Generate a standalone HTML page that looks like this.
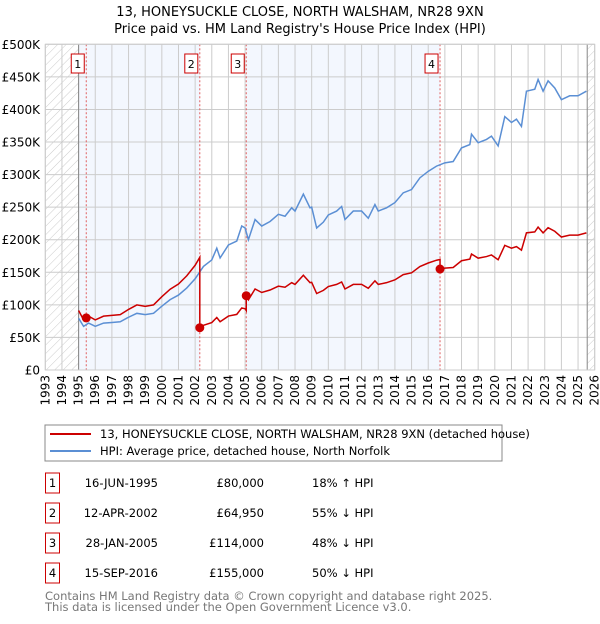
<!DOCTYPE html>
<html><head><meta charset="utf-8"><style>
body{margin:0;background:#fff;font-family:"DejaVu Sans","Liberation Sans",sans-serif;}
svg text{font-family:"DejaVu Sans","Liberation Sans",sans-serif;}
</style></head><body>
<svg id="c" width="600" height="620" xmlns="http://www.w3.org/2000/svg">
<defs><pattern id="hatch" width="6" height="6" patternUnits="userSpaceOnUse" patternTransform="rotate(45)"><line x1="0" y1="0" x2="0" y2="6" stroke="#ccc" stroke-width="1"/></pattern></defs>
<text x="300" y="16" text-anchor="middle" font-size="13">13, HONEYSUCKLE CLOSE, NORTH WALSHAM, NR28 9XN</text>
<text x="300" y="33" text-anchor="middle" font-size="13">Price paid vs. HM Land Registry's House Price Index (HPI)</text>
<g id="plot"></g>
<rect x="45" y="425" width="457" height="36" fill="#fff" stroke="#888"/>
<line x1="50" y1="434" x2="91" y2="434" stroke="#cc0000" stroke-width="2"/>
<text x="100" y="438" font-size="11.5">13, HONEYSUCKLE CLOSE, NORTH WALSHAM, NR28 9XN (detached house)</text>
<line x1="50" y1="451" x2="91" y2="451" stroke="#5b8fd4" stroke-width="2"/>
<text x="100" y="455" font-size="11.5">HPI: Average price, detached house, North Norfolk</text>
<g id="tbl" font-size="11.5"></g>
<text x="45" y="600" font-size="11.5" fill="#777">Contains HM Land Registry data © Crown copyright and database right 2025.</text>
<text x="45" y="611" font-size="11.5" fill="#777">This data is licensed under the Open Government Licence v3.0.</text>
</svg>
<script>
const hpiT=[1995.0,1995.3,1995.6,1996.0,1996.5,1997.0,1997.5,1998.0,1998.5,1999.0,1999.5,2000.0,2000.5,2001.0,2001.5,2002.0,2002.5,2003.0,2003.3,2003.5,2004.0,2004.5,2004.8,2005.0,2005.2,2005.6,2006.0,2006.5,2007.0,2007.4,2007.8,2008.0,2008.5,2008.9,2009.0,2009.3,2009.7,2010.0,2010.5,2010.8,2011.0,2011.5,2012.0,2012.4,2012.8,2013.0,2013.5,2014.0,2014.5,2015.0,2015.5,2016.0,2016.5,2017.0,2017.5,2018.0,2018.5,2018.6,2019.0,2019.5,2019.8,2020.2,2020.6,2021.0,2021.3,2021.6,2021.9,2022.4,2022.6,2022.9,2023.2,2023.6,2024.0,2024.5,2025.0,2025.5];
const hpiV=[79500,67000,72000,67000,72000,73000,74000,81000,87000,85000,87000,98000,108000,115000,126000,140000,159000,169000,187000,172000,192000,198000,221000,218000,200000,231000,221000,228000,239000,236000,249000,244000,270000,249000,250000,218000,227000,238000,244000,251000,231000,244000,244000,233000,254000,244000,249000,257000,272000,277000,295000,305000,313000,318000,320000,341000,346000,362000,349000,354000,359000,344000,389000,380000,385000,374000,428000,431000,446000,428000,444000,433000,415000,421000,421000,428000];
const saleT=[1995.46,2002.28,2005.07,2016.71];
const saleP=[80000,64950,114000,155000];
const saleLabels=["1","2","3","4"];
const saleDates=["16-JUN-1995","12-APR-2002","28-JAN-2005","15-SEP-2016"];
const salePrices=["£80,000","£64,950","£114,000","£155,000"];
const saleHpi=["18% ↑ HPI","55% ↓ HPI","48% ↓ HPI","50% ↓ HPI"];
const yTicks=[0,50000,100000,150000,200000,250000,300000,350000,400000,450000,500000];
const yTickLabels=["£0","£50K","£100K","£150K","£200K","£250K","£300K","£350K","£400K","£450K","£500K"];
const NS="http://www.w3.org/2000/svg";
const X0=45.3,X1=594.7,Y0=370,Y1=44.3;
const x=t=>X0+(t-1993)/(2026-1993)*(X1-X0);
const y=v=>Y0-v/500000*(Y0-Y1);
const g=document.getElementById('plot');
function mk(tag,at,par){const e=document.createElementNS(NS,tag);for(const k in at)e.setAttribute(k,at[k]);(par||g).appendChild(e);return e;}
function hpiAt(t){for(let i=0;i<hpiT.length-1;i++){if(t<=hpiT[i+1]){const f=(t-hpiT[i])/(hpiT[i+1]-hpiT[i]);return hpiV[i]+f*(hpiV[i+1]-hpiV[i]);}}return hpiV[hpiV.length-1];}
let e;
e=mk('rect',{x:x(1995),y:Y1,width:x(saleT[1])-x(1995),height:Y0-Y1,fill:'#f3f7fe'});


e=mk('rect',{x:x(saleT[2]),y:Y1,width:x(saleT[3])-x(saleT[2]),height:Y0-Y1,fill:'#f3f7fe'});


e=mk('rect',{x:X0,y:Y1,width:x(1995)-X0,height:Y0-Y1,fill:'url(#hatch)'});


e=mk('rect',{x:x(2025.55),y:Y1,width:X1-x(2025.55),height:Y0-Y1,fill:'url(#hatch)'});


for(let yr=1993;yr<=2026;yr++){
 e=mk('line',{x1:x(yr),x2:x(yr),y1:Y1,y2:Y0,stroke:'#ccc'});
 
 
 const tx=x(yr)+4;
 e=mk('text',{x:0,y:0,transform:`translate(${tx},375) rotate(-90)`,'text-anchor':'end','font-size':'12'});
 e.textContent=yr;
 
 
}
yTicks.forEach((v,i)=>{
 e=mk('line',{x1:X0,x2:X1,y1:y(v),y2:y(v),stroke:'#ccc'});
 
 
 e=mk('text',{x:40,y:y(v)+4.5,'text-anchor':'end','font-size':'12'});
 e.textContent=yTickLabels[i];
 
 
});
e=mk('line',{x1:x(1995),x2:x(1995),y1:Y1,y2:Y0,stroke:'#888'});


e=mk('line',{x1:x(2025.55),x2:x(2025.55),y1:Y1,y2:Y0,stroke:'#888'});


saleT.forEach((t,i)=>{
 e=mk('line',{x1:x(t),x2:x(t),y1:Y1,y2:Y0,stroke:'#e06060','stroke-dasharray':'2,2'});
 
 
});
e=mk('polyline',{points:hpiT.map((t,i)=>x(t)+','+y(hpiV[i])).join(' '),fill:'none',stroke:'#5b8fd4','stroke-width':'1.5'});


let pts=[];
function seg(t0,t1,k){const ts=[t0].concat(hpiT.filter(t=>t>t0&&t<t1),[t1]);ts.forEach(t=>pts.push(x(t)+','+y(hpiAt(t)*k)));}
const k0=saleP[0]/hpiAt(saleT[0]);
seg(1995.0,saleT[1],k0);
for(let i=1;i<saleT.length;i++){const k=saleP[i]/hpiAt(saleT[i]);seg(saleT[i],i+1<saleT.length?saleT[i+1]:2025.5,k);}
e=mk('polyline',{points:pts.join(' '),fill:'none',stroke:'#cc0000','stroke-width':'1.5'});


saleT.forEach((t,i)=>{
 e=mk('circle',{cx:x(t),cy:y(saleP[i]),r:4.5,fill:'#cc0000'});
 
 
 e=mk('rect',{x:x(t)-15,y:54,width:13,height:19,fill:'#fff',stroke:'#cc0000'});
 
 
 e=mk('text',{x:x(t)-8.5,y:68,'text-anchor':'middle','font-size':'11'});
 e.textContent=saleLabels[i];
 
 
});
e=mk('rect',{x:X0,y:Y1,width:X1-X0,height:Y0-Y1,fill:'none',stroke:'#ccc'});


const tb=document.getElementById('tbl');
saleT.forEach((t,i)=>{
 const cy=483+i*30;
 e=mk('rect',{x:45.5,y:cy-10,width:14,height:20,fill:'#fff',stroke:'#cc0000'},tb);
 
 
 e=mk('text',{x:52.5,y:cy+4,'text-anchor':'middle'},tb);e.textContent=saleLabels[i];
 
 
 e=mk('text',{x:158,y:cy+4,'text-anchor':'end'},tb);e.textContent=saleDates[i];
 
 
 e=mk('text',{x:264,y:cy+4,'text-anchor':'end'},tb);e.textContent=salePrices[i];
 
 
 e=mk('text',{x:312,y:cy+4},tb);e.textContent=saleHpi[i];
 
 
});
</script>
</body></html>
